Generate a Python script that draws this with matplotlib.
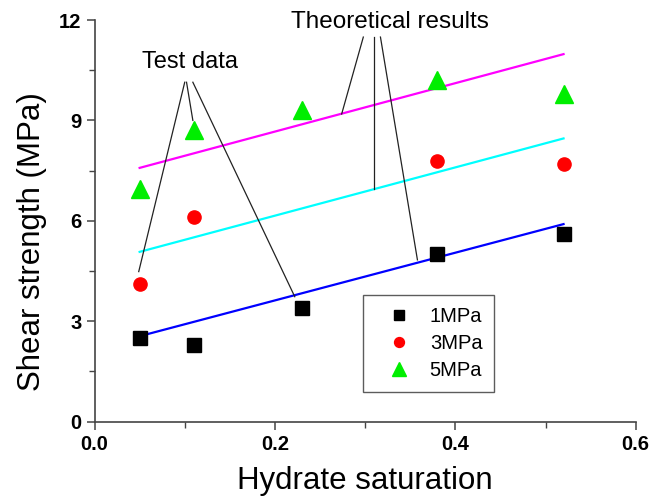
import numpy as np
import matplotlib.pyplot as plt
from matplotlib.ticker import MultipleLocator

plt.rcParams['font.family'] = ['Liberation Sans', 'DejaVu Sans']

# test data
sat = [0.05, 0.11, 0.23, 0.38, 0.52]
s1 = [2.5, 2.3, 3.4, 5.0, 5.6]
sat3 = [0.05, 0.11, 0.38, 0.52]
s3 = [4.1, 6.1, 7.8, 7.7]
s5 = [6.95, 8.7, 9.3, 10.2, 9.8]

# theoretical lines (end points)
theory_x = [0.05, 0.52]
theory_1 = [2.55, 5.9]
theory_3 = [5.07, 8.46]
theory_5 = [7.58, 10.98]

# annotation leader lines: (start, end) in data coords
test_label_pos = (0.106, 10.75)
test_leaders = [((0.100, 10.14), (0.049, 4.48)),
                ((0.102, 10.14), (0.109, 9.0)),
                ((0.109, 10.14), (0.222, 3.73))]
theory_label_pos = (0.327, 11.93)
theory_leaders = [((0.298, 11.49), (0.274, 9.19)),
                  ((0.310, 11.49), (0.310, 6.95)),
                  ((0.317, 11.49), (0.358, 4.83))]

fig = plt.figure(figsize=(6.52, 5.0), dpi=100)
ax = fig.add_axes([0.145, 0.157, 0.83, 0.803])

ax.plot(theory_x, theory_5, color='#ff00ff', lw=1.6)
ax.plot(theory_x, theory_3, color='#00ffff', lw=1.6)
ax.plot(theory_x, theory_1, color='#0000ff', lw=1.6)

ax.plot(sat, s1, 's', color='black', ms=9.5, label='1MPa')
ax.plot(sat3, s3, 'o', color='red', ms=9.5, label='3MPa')
ax.plot(sat, s5, '^', color='#00ee00', ms=13, label='5MPa')

for (a, b) in test_leaders + theory_leaders:
    ax.plot([a[0], b[0]], [a[1], b[1]], color='#222222', lw=0.9)

ax.text(test_label_pos[0], test_label_pos[1], 'Test data', fontsize=17,
        ha='center', va='center')
ax.text(theory_label_pos[0], theory_label_pos[1], 'Theoretical results',
        fontsize=17.5, ha='center', va='center')

ax.set_xlim(0, 0.6)
ax.set_ylim(0, 12)
ax.xaxis.set_major_locator(MultipleLocator(0.2))
ax.xaxis.set_minor_locator(MultipleLocator(0.1))
ax.yaxis.set_major_locator(MultipleLocator(3))
ax.yaxis.set_minor_locator(MultipleLocator(1.5))
ax.xaxis.set_major_formatter(plt.FuncFormatter(lambda v, p: '%.1f' % v))
ax.yaxis.set_major_formatter(plt.FuncFormatter(lambda v, p: '%d' % round(v)))

for sp in ['top', 'right']:
    ax.spines[sp].set_visible(False)
for sp in ['left', 'bottom']:
    ax.spines[sp].set_color('#444444')
    ax.spines[sp].set_linewidth(1.2)
ax.tick_params(which='major', direction='out', length=6, width=1.1,
               color='#444444', labelsize=14.5)
ax.tick_params(which='minor', direction='out', length=4, width=1.0,
               color='#444444')
for lab in ax.get_xticklabels() + ax.get_yticklabels():
    lab.set_fontweight('bold')

ax.set_xlabel('Hydrate saturation', fontsize=22.5, labelpad=9)
ax.set_ylabel('Shear strength (MPa)', fontsize=22.5)
ax.yaxis.set_label_coords(-0.088, 0.447)

leg = ax.legend(loc='upper left', bbox_to_anchor=(0.478, 0.34), numpoints=1,
                fontsize=14.5, frameon=True, fancybox=False, borderpad=0.6,
                handlelength=2.3, handletextpad=0.4, labelspacing=0.4,
                markerscale=0.75)
leg.get_frame().set_edgecolor('#333333')
leg.get_frame().set_linewidth(1.0)

fig.savefig('out.png', dpi=100)
